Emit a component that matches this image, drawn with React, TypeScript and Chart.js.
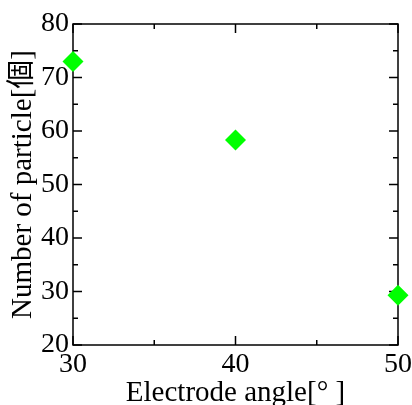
import React, { useEffect, useRef } from "react";
import { Chart, registerables } from "chart.js";
Chart.register(...registerables);

const angles = [30, 40, 50];
const particles = [73.0, 58.3, 29.3];
const xMajor = [30, 40, 50];
const xMinor = [35, 45];
const yMajor = [20, 30, 40, 50, 60, 70, 80];
const yMinor = [25, 35, 45, 55, 65, 75];
const xTitle = "Electrode angle[° ]";
const yTitle = "Number of particle[個]";

const FONT = '"Liberation Serif", "Noto Sans CJK JP", serif';

const frameTicks = {
  id: "frameTicks",
  beforeDatasetsDraw(chart: any) {
    const { ctx, chartArea } = chart;
    const { left, right, top, bottom } = chartArea;
    const xs = chart.scales.x;
    const ys = chart.scales.y;
    ctx.save();
    ctx.strokeStyle = "#000";
    ctx.lineWidth = 1.5;
    ctx.strokeRect(left, top, right - left, bottom - top);
    ctx.beginPath();
    const vx = (vals: number[], len: number) => {
      vals.forEach((v) => {
        const p = xs.getPixelForValue(v);
        ctx.moveTo(p, bottom);
        ctx.lineTo(p, bottom - len);
        ctx.moveTo(p, top);
        ctx.lineTo(p, top + len);
      });
    };
    const vy = (vals: number[], len: number) => {
      vals.forEach((v) => {
        const p = ys.getPixelForValue(v);
        ctx.moveTo(left, p);
        ctx.lineTo(left + len, p);
        ctx.moveTo(right, p);
        ctx.lineTo(right - len, p);
      });
    };
    vx(xMajor, 9);
    vx(xMinor, 5);
    vy(yMajor, 9);
    vy(yMinor, 5);
    ctx.stroke();
    ctx.restore();
  },
};

export default function App() {
  const ref = useRef<HTMLCanvasElement>(null);
  useEffect(() => {
    if (!ref.current) return;
    const chart = new Chart(ref.current, {
      type: "scatter",
      data: {
        datasets: [
          {
            data: angles.map((a, i) => ({ x: a, y: particles[i] })),
            pointStyle: "rectRot",
            pointRadius: 10.5,
            pointHoverRadius: 10.5,
            backgroundColor: "#00ff00",
            borderColor: "#00ff00",
            borderWidth: 0,
            clip: false,
          } as any,
        ],
      },
      options: {
        animation: false,
        responsive: false,
        events: [],
        layout: { padding: { left: 0, top: 24, right: 14, bottom: 0 } },
        plugins: { legend: { display: false }, tooltip: { enabled: false } },
        scales: {
          x: {
            type: "linear",
            min: 30,
            max: 50,
            afterBuildTicks: (s: any) => {
              s.ticks = xMajor.map((v) => ({ value: v }));
            },
            afterFit: (s: any) => {
              s.height = 60;
              s.paddingLeft = 0;
              s.paddingRight = 0;
            },
            grid: { display: false, drawTicks: false },
            border: { display: false },
            ticks: {
              color: "#000",
              padding: 3,
              maxRotation: 0,
              font: { family: FONT, size: 28 },
            },
            title: {
              display: true,
              text: xTitle,
              color: "#000",
              padding: { top: 0, bottom: 0 },
              font: { family: FONT, size: 29, lineHeight: 0.8 },
            },
          },
          y: {
            type: "linear",
            min: 20,
            max: 80,
            afterBuildTicks: (s: any) => {
              s.ticks = yMajor.map((v) => ({ value: v }));
            },
            afterFit: (s: any) => {
              s.width = 73;
              s.paddingTop = 0;
              s.paddingBottom = 0;
            },
            grid: { display: false, drawTicks: false },
            border: { display: false },
            ticks: {
              color: "#000",
              padding: 4,
              font: { family: FONT, size: 28 },
            },
            title: {
              display: true,
              text: yTitle,
              color: "#000",
              padding: { top: 6, bottom: 0 },
              font: { family: FONT, size: 29 },
            },
          },
        },
      },
      plugins: [frameTicks],
    });
    return () => chart.destroy();
  }, []);
  return (
    <div style={{ position: "fixed", left: 0, top: 0, width: 412, height: 405, background: "#fff" }}>
      <canvas ref={ref} width={412} height={405} style={{ display: "block" }} />
    </div>
  );
}
